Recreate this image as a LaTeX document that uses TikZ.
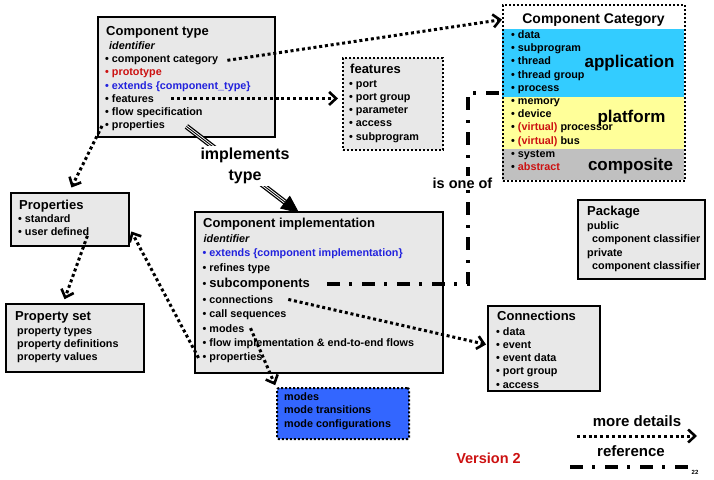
\documentclass[tikz,border=0pt]{standalone}
\usepackage{fontspec}
\setmainfont{Liberation Sans}
\usetikzlibrary{arrows.meta,shadows}

\definecolor{boxgray}{HTML}{E8E8E8}
\definecolor{appblue}{HTML}{33CCFF}
\definecolor{platyellow}{HTML}{FFFF99}
\definecolor{compgray}{HTML}{C0C0C0}
\definecolor{modeblue}{HTML}{3366FF}
\definecolor{kwred}{HTML}{CC1111}
\definecolor{kwblue}{HTML}{2222DD}

\begin{document}
\begin{tikzpicture}[x=1pt,y=-1pt,
  box/.style={draw=black, line width=2.4pt, fill=boxgray, anchor=north west, inner sep=0pt,
    drop shadow={shadow xshift=1.2pt,shadow yshift=-1.2pt,opacity=1,fill=black}},
  dotbox/.style={draw=black, line width=2.2pt, dash pattern=on 2pt off 2pt, anchor=north west, inner sep=0pt},
  band/.style={anchor=north west, inner sep=0pt, draw=none},
  item/.style={anchor=base west, inner sep=0pt, font=\fontsize{10.8}{13}\selectfont\bfseries},
  itemit/.style={item, font=\fontsize{10.8}{13}\selectfont\bfseries\itshape},
  ttl/.style={anchor=base west, inner sep=0pt, font=\fontsize{13}{15}\selectfont\bfseries},
  biglabel/.style={anchor=base, inner sep=0pt, font=\fontsize{17}{19}\selectfont\bfseries},
  more/.style={line width=3pt, dash pattern=on 3pt off 2.8pt,
    -{Straight Barb[length=7pt,width=13pt,line width=2.6pt]}},
  refline/.style={line width=3.5pt, dash pattern=on 13pt off 9pt on 3pt off 10pt},
]
\useasboundingbox (0,0) rectangle (714,479);

% ---------- boxes ----------
\node[box, minimum width=177pt, minimum height=120pt] (ctype) at (97,16) {};
\node[dotbox, fill=boxgray, minimum width=100pt, minimum height=92pt] (featbox) at (342,57) {};
\node[band, fill=appblue, minimum width=182pt, minimum height=68pt] (appband) at (502,29) {};
\node[band, fill=platyellow, minimum width=182pt, minimum height=52pt] (platband) at (502,97) {};
\node[band, fill=compgray, minimum width=182pt, minimum height=31pt] (compband) at (502,149) {};
\node[dotbox, minimum width=182pt, minimum height=176pt] (catbox) at (502,4) {};
\node[box, minimum width=118pt, minimum height=53pt] (props) at (10,192) {};
\node[box, minimum width=138pt, minimum height=68pt] (pset) at (5,303) {};
\node[box, minimum width=248pt, minimum height=161pt] (impl) at (194,211) {};
\node[dotbox, fill=modeblue, rounded corners=2pt, minimum width=132pt, minimum height=51pt] (modesbox) at (276,387) {};
\node[box, minimum width=127pt, minimum height=79pt] (pkg) at (577,199) {};
\node[box, minimum width=112pt, minimum height=85pt] (conn) at (487,305) {};

% ---------- component type ----------
\node[ttl] at (106,35) {Component type};
\node[itemit] at (109,49.5) {identifier};
\node[item] (ctcat) at (105,62.7) {• component category};
\node[item, text=kwred] at (105,75.9) {• prototype};
\node[item, text=kwblue] at (105,89.1) {• extends \{component\_type\}};
\node[item] (ctfeat) at (105,102.3) {• features};
\node[item] at (105,115.5) {• flow specification};
\node[item] (ctprop) at (105,128.7) {• properties};

% ---------- features ----------
\node[ttl] at (350,73.5) {features};
\node[item] at (349,87) {• port};
\node[item] at (349,100.3) {• port group};
\node[item] at (349,113.6) {• parameter};
\node[item] at (349,126.9) {• access};
\node[item] at (349,140.2) {• subprogram};

% ---------- component category ----------
\node[ttl, anchor=base, font=\fontsize{14}{16}\selectfont\bfseries] (cattl) at (593.5,23) {Component Category};
\node[item] at (511,38.5) {• data};
\node[item] at (511,51.7) {• subprogram};
\node[item] at (511,64.9) {• thread};
\node[item] at (511,78.1) {• thread group};
\node[item] at (511,91.3) {• process};
\node[item] at (511,104.5) {• memory};
\node[item] at (511,117.7) {• device};
\node[item] at (511,130.9) {• \textcolor{kwred}{(virtual)} processor};
\node[item] at (511,144.1) {• \textcolor{kwred}{(virtual)} bus};
\node[item] at (511,157.3) {• system};
\node[item] at (511,170.5) {• \textcolor{kwred}{abstract}};
\node[biglabel] at (629.5,67) {application};
\node[biglabel] at (631.5,122) {platform};
\node[biglabel] at (630.5,170) {composite};

% ---------- properties ----------
\node[ttl] at (19,209.3) {Properties};
\node[item] at (18,222.3) {• standard};
\node[item] (udef) at (18,235.5) {• user defined};

% ---------- property set ----------
\node[ttl] at (15,320.7) {Property set};
\node[item] at (17,334) {property types};
\node[item] at (17,347.3) {property definitions};
\node[item] at (17,360.5) {property values};

% ---------- component implementation ----------
\node[ttl] at (203,227.5) {Component implementation};
\node[itemit] at (203.5,242.3) {identifier};
\node[item, text=kwblue] at (202.5,256.7) {• extends \{component implementation\}};
\node[item] at (202.5,271) {• refines type};
\node[item] (subc) at (202.5,287.3) {• {\fontsize{13}{15}\selectfont subcomponents}};
\node[item] (iconn) at (202.5,303.3) {• connections};
\node[item] at (202.5,317.7) {• call sequences};
\node[item] (imodes) at (202.5,332) {• modes};
\node[item] at (202.5,346.5) {• flow implementation \& end-to-end flows};
\node[item] (iprops) at (202.5,360.7) {• properties};

% ---------- modes ----------
\node[item] at (284,400.7) {modes};
\node[item] at (284,413.9) {mode transitions};
\node[item] at (284,427.1) {mode configurations};

% ---------- package ----------
\node[ttl] at (587,215) {Package};
\node[item] at (587,229) {public};
\node[item] at (592,242.5) {component classifier};
\node[item] at (587,256) {private};
\node[item] at (592,269.5) {component classifier};

% ---------- connections ----------
\node[ttl] at (497,320.7) {Connections};
\node[item] at (496,335) {• data};
\node[item] at (496,348.3) {• event};
\node[item] at (496,361.6) {• event data};
\node[item] at (496,374.9) {• port group};
\node[item] at (496,388.2) {• access};

% ---------- detail links ----------
\draw[more] ([xshift=9pt]ctcat.east) -- (catbox.west |- cattl);
\draw[more, shorten >=4pt] ([xshift=17pt]ctfeat.east) -- (featbox.west |- ctfeat.east);
\draw[more, shorten >=5pt] ([xshift=-3pt]ctprop.west) -- ([xshift=-1pt]props.north);
\draw[more, shorten >=4pt] ([xshift=-2pt]udef.south east) -- ([xshift=-12pt]pset.north);
\draw[more, shorten >=2pt] ([xshift=-4pt]iprops.west) -- ([yshift=-10pt]props.east);
\draw[more, shorten >=1pt] ([xshift=15pt]iconn.east) -- ([yshift=4pt]conn.west);
\draw[more, shorten >=2pt] ([xshift=6pt]imodes.east) -- (modesbox.north west);

% ---------- reference link ----------
\draw[refline] ([xshift=17pt]subc.east) -| ([xshift=-34pt]catbox.west) -- (catbox.west);
\node[anchor=base, fill=white, inner sep=2pt, font=\fontsize{14.5}{16}\selectfont\bfseries] (isof) at (462.5,188.3) {is one of};

% ---------- implements type ----------
\coordinate (impA) at ([xshift=-90pt,yshift=12pt]ctype.south east);
\coordinate (impB) at ([xshift=-20pt,yshift=-2pt]impl.north);
\draw[line width=5.4pt, shorten >=14pt] (impA) -- (impB);
\draw[line width=2.8pt, white, shorten >=13pt] (impA) -- (impB);
\draw[line width=0.9pt, -{Triangle[length=18pt,width=16pt]}] (impA) -- (impB);
\node[fill=white, inner sep=2pt, align=center, font=\fontsize{16}{21}\selectfont\bfseries] (impl-lbl) at (245,166) {implements\\type};

% ---------- legend ----------
\node[anchor=base, inner sep=0pt, font=\fontsize{15}{17}\selectfont\bfseries] (lgmore) at (637,426.7) {more details};
\coordinate (mdA) at (577,436);
\coordinate (mdB) at (697,436);
\draw[more] (mdA) -- (mdB);
\node[anchor=base, inner sep=0pt, font=\fontsize{15}{17}\selectfont\bfseries] (lgref) at (631,456.7) {reference};
\coordinate (rfA) at (570,467);
\coordinate (rfB) at (690,467);
\draw[refline] (rfA) -- (rfB);
\node[anchor=base, inner sep=0pt, text=kwred, font=\fontsize{14.5}{16}\selectfont\bfseries] (ver) at (488.5,463.3) {Version 2};
\node[anchor=base west, inner sep=0pt, font=\fontsize{6}{7}\selectfont\bfseries] (pgno) at (691.5,474) {22};
\end{tikzpicture}
\end{document}
